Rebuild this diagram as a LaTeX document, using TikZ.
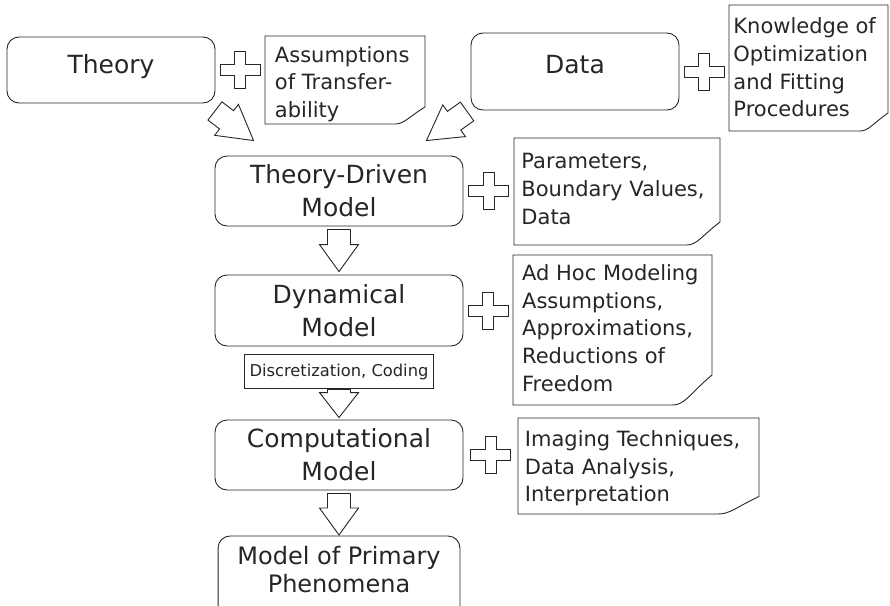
\documentclass[tikz,border=0pt]{standalone}
\usepackage{fontspec}
\setmainfont{DejaVu Sans}
\usepackage{tikz}
\usetikzlibrary{calc}
\usetikzlibrary{positioning}

\tikzset{
  block/.style = {draw, rounded corners = 12pt, align = center, inner sep = 2pt, font = \fontsize{25}{33}\selectfont, minimum width = 248pt, minimum height = 70pt},
  note/.style = {anchor = north west, align = left, font = \fontsize{21}{27.7}\selectfont},
  codebox/.style = {draw, fill = white, font = \fontsize{16.3}{20}\selectfont, minimum height = 34pt, inner xsep = 5pt},
  plussign/.pic = {\draw[fill = white] (-5.5, -18.5) -- (5.5, -18.5) -- (5.5, -5.5) -- (20, -5.5) -- (20, 5.5) -- (5.5, 5.5) -- (5.5, 18.5) -- (-5.5, 18.5) -- (-5.5, 5.5) -- (-20, 5.5) -- (-20, -5.5) -- (-5.5, -5.5) -- cycle;}
}

% hollow block arrow from #2 to #3, #1 = head length
\newcommand{\fatarrow}[3][27]{%
  \draw[fill = white] let \p1 = (#2), \p2 = (#3), \n1 = {atan2(\y2 - \y1, \x2 - \x1)}, \n2 = {veclen(\x2 - \x1, \y2 - \y1)} in
    [shift = {(\p1)}, rotate = \n1]
    (0pt, 11.5pt) -- ({\n2 - #1pt}, 11.5pt) -- ({\n2 - #1pt}, 19.5pt) -- (\n2, 0pt) -- ({\n2 - #1pt}, -19.5pt) -- ({\n2 - #1pt}, -11.5pt) -- (0pt, -11.5pt) -- cycle;}

\begin{document}
\begin{tikzpicture}[x = 1pt, y = -1pt, line width = .9pt, color = black!85]
 \useasboundingbox (0, 0) rectangle (890, 605);
 % main column
 \node (theory) [block, minimum width = 208pt, minimum height = 66pt, text height = 19pt, text depth = 12.4pt] at (111, 70) {Theory};
 \node (data) [block, minimum width = 208pt, minimum height = 77pt, text height = 19pt, text depth = 15.4pt] at (575, 71.5) {Data};
 \node (tdm) [block] at (339, 191) {Theory-Driven\\Model};
 \node (dyn) [block, minimum height = 71pt] at (339, 310.5) {Dynamical\\Model};
 \node (comp) [block] at (339, 455) {Computational\\Model};
 \node (model) [block, draw = none, anchor = north, minimum width = 241pt, minimum height = 0pt, inner ysep = 10pt, font = \fontsize{24}{28}\selectfont] at (339, 536) {Model of Primary\\Phenomena};
 \draw[rounded corners = 12pt] ([yshift = -20pt]model.south west) -- (model.north west) -- (model.north east) -- ([yshift = -20pt]model.south east);

 % notes
 \node (assump) [note, inner xsep = 9.5pt, inner ysep = 9.7pt] at (265, 36) {Assumptions\\of Transfer-\\ability};
 \node (know) [note, inner xsep = 4pt, inner ysep = 12.3pt] at (729, 5) {Knowledge of\\Optimization\\and Fitting\\Procedures};
 \node (param) [note, inner xsep = 7pt, inner ysep = 15pt] at (514, 138) {Parameters,\\Boundary Values,\\Data};
 \node (adhoc) [note, inner xsep = 8.7pt, inner ysep = 9pt] at (513, 255) {Ad Hoc Modeling\\Assumptions,\\Approximations,\\Reductions of\\Freedom};
 \node (imag) [note, inner xsep = 6.5pt, inner ysep = 12pt] at (518, 418) {Imaging Techniques,\\Data Analysis,\\Interpretation};
 \foreach \n/\w/\h/\dx/\dy in {assump/160/88/30/17, know/159/126/28/18, param/206/107/33/23, adhoc/199/150/39/30, imag/241/96/41/17.5}
   \draw (\n.north west) -- ++(\w, 0) -- ++(0, \h - \dy) .. controls +(-.55*\dx, .6*\dy) and +(.3*\dx, 0) .. ++(-\dx, \dy) -- ++(\dx - \w, 0) -- cycle;

 \foreach \a/\b in {theory/assump, data/know, tdm/param, dyn/adhoc, comp/imag}
   \pic at ($(\a.east)!.5!(\b.west |- \a.east)$) {plussign};

 % arrows
 \coordinate (t1) at ([shift = {(-.5pt, -7.5pt)}]theory.south east);
 \coordinate (t2) at ([shift = {(39pt, 15pt)}]tdm.north west);
 \coordinate (d1) at ([shift = {(-3.5pt, -1pt)}]data.south west);
 \coordinate (d2) at ([shift = {(-37pt, 15pt)}]tdm.north east);
 \fatarrow[34]{t1}{t2}
 \fatarrow[34]{d1}{d2}
 \fatarrow{[yshift = -3pt]tdm.south}{[yshift = 3pt]dyn.north}
 \node (disc) [codebox, below = 8pt of dyn] {Discretization, Coding};
 \fatarrow[25]{disc.south}{[yshift = 2pt]comp.north}
 \fatarrow{[yshift = -3pt]comp.south}{[yshift = 1pt]model.north}
\end{tikzpicture}
\end{document}
